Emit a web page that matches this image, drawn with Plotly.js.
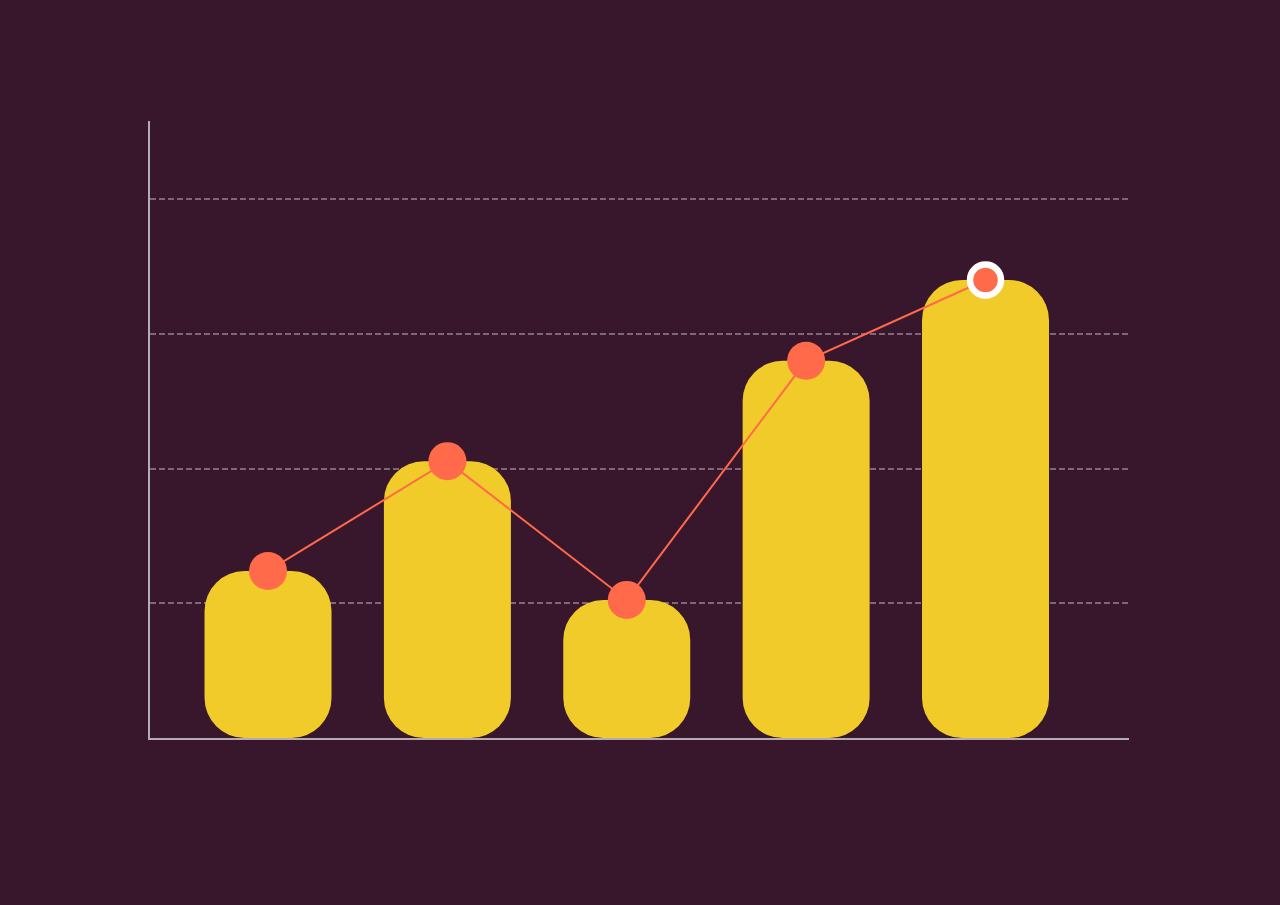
<!DOCTYPE html>
<html>
<head>
<meta charset="utf-8">
<script src="https://cdn.plot.ly/plotly-3.0.1.min.js"></script>
<style>
  html, body { margin: 0; padding: 0; background: #38162c; }
  #graph { width: 1280px; height: 905px; }
</style>
</head>
<body>
<div id="graph"></div>
<script>
// values
var positions = [0, 1, 2, 3, 4];
var barValues = [24.8, 41.1, 20.5, 56.0, 68.0];
var lineValues = [24.8, 41.1, 20.5, 56.0, 68.0];
var gridValues = [20, 40, 60, 80];

// bars standing on an explicit base of zero (gives rounded corners at both ends)
var barBase = positions.map(function () { return 0; });

var bars = {
    x: positions,
    y: barValues,
    base: barBase,
    type: 'bar',
    width: 0.708,
    marker: { color: '#f0cb29', cornerradius: 40, line: { width: 0 } },
    hoverinfo: 'skip'
};
var line = {
    x: positions,
    y: lineValues,
    type: 'scatter',
    mode: 'lines+markers',
    line: { color: '#ff6a4a', width: 2 },
    marker: {
        color: '#ff6a4a',
        opacity: 1,
        size: [38, 38, 38, 38, 31],
        line: { color: '#ffffff', width: [0, 0, 0, 0, 6.5] }
    },
    cliponaxis: false
};

var layout = {
    width: 1280,
    height: 905,
    paper_bgcolor: '#38162c',
    plot_bgcolor: '#38162c',
    showlegend: false,
    margin: { l: 150, r: 151, t: 121, b: 167, pad: 0 },
    xaxis: {
        range: [-0.658, 4.80],
        showgrid: false,
        zeroline: false,
        showticklabels: false,
        ticks: '',
        showline: true,
        linecolor: '#b3adb3',
        linewidth: 2
    },
    yaxis: {
        range: [0, 91.6],
        tickmode: 'array',
        tickvals: gridValues,
        showticklabels: false,
        ticks: '',
        showgrid: true,
        gridcolor: '#7d6679',
        gridwidth: 2,
        griddash: '6px,3px',
        zeroline: false,
        showline: true,
        linecolor: '#b3adb3',
        linewidth: 2
    }
};

Plotly.newPlot('graph', [bars, line], layout, { displayModeBar: false, staticPlot: true });
</script>
</body>
</html>
